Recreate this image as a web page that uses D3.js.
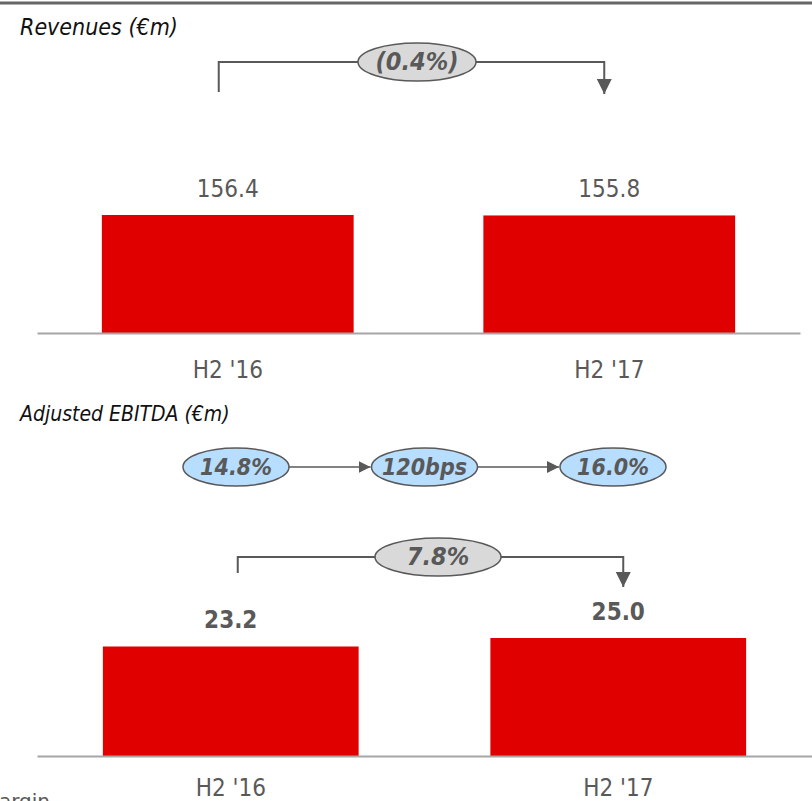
<!DOCTYPE html>
<html>
<head>
<meta charset="utf-8">
<script src="https://cdn.jsdelivr.net/npm/d3@7"></script>
<style>
  body { margin: 0; background: #fff; }
  svg { display: block; }
  text { font-family: "DejaVu Sans Condensed", "DejaVu Sans", sans-serif; fill: #595959; }
</style>
</head>
<body>
<div id="chart"></div>
<script>
// data
const categories = ["H2 '16", "H2 '17"];
const revenues = [156.4, 155.8];
const ebitda = [23.2, 25.0];
const revenueChange = "(0.4%)";
const ebitdaChange = "7.8%";
const marginSteps = ["14.8%", "120bps", "16.0%"];

const W = 812, H = 801;
const RED = "#e00000", GREY = "#595959";

const svg = d3.select("#chart").append("svg")
    .attr("width", W)
    .attr("height", H);

// arrow heads
const defs = svg.append("defs");
defs.append("marker")
    .attr("id", "head")
    .attr("viewBox", "0 0 10 10")
    .attr("refX", 10).attr("refY", 5)
    .attr("markerWidth", 12).attr("markerHeight", 12)
    .attr("markerUnits", "userSpaceOnUse")
    .attr("orient", "auto")
  .append("path")
    .attr("d", "M0,0L10,5L0,10Z")
    .attr("fill", GREY);

defs.append("marker")
    .attr("id", "headBig")
    .attr("viewBox", "0 0 10 10")
    .attr("refX", 10).attr("refY", 5)
    .attr("markerWidth", 15).attr("markerHeight", 16)
    .attr("markerUnits", "userSpaceOnUse")
    .attr("orient", "auto")
  .append("path")
    .attr("d", "M0,0L10,5L0,10Z")
    .attr("fill", GREY);

// top rule
svg.append("line")
    .attr("x1", 0).attr("x2", W)
    .attr("y1", 3).attr("y2", 3)
    .attr("stroke", "#666").attr("stroke-width", 3);

function drawPanel(opts) {
    const x = d3.scaleBand()
        .domain(categories)
        .range([37, opts.axisRight])
        .paddingInner(0.34)
        .paddingOuter(0.17);

    const y = d3.scaleLinear()
        .domain([0, opts.max])
        .range([opts.base, opts.base - opts.maxH]);

    const g = svg.append("g");

    // title
    g.append("text")
        .attr("x", 20).attr("y", opts.titleY)
        .style("font-style", "italic")
        .style("font-size", opts.titleSize)
        .style("fill", "#111")
        .text(opts.title);

    g.selectAll(".bar")
        .data(opts.values)
        .join("rect")
        .attr("class", "bar")
        .attr("x", (d, i) => x(categories[i]))
        .attr("width", x.bandwidth())
        .attr("y", d => y(d))
        .attr("height", d => y(0) - y(d))
        .attr("fill", RED);

    // baseline + category labels
    const axis = g.append("g")
        .attr("transform", `translate(0,${opts.base})`)
        .call(d3.axisBottom(x).tickSize(0).tickPadding(opts.tickPad));
    axis.select(".domain").attr("stroke", "#a6a6a6").attr("stroke-width", 2);
    axis.selectAll(".tick text")
        .style("font-family", "'DejaVu Sans Condensed', sans-serif")
        .style("font-size", "24px")
        .style("fill", GREY);

    // value labels
    g.selectAll(".val")
        .data(opts.values)
        .join("text")
        .attr("class", "val")
        .attr("x", (d, i) => x(categories[i]) + x.bandwidth() / 2)
        .attr("y", d => y(d) - 18)
        .attr("text-anchor", "middle")
        .style("font-size", "24px")
        .style("font-weight", opts.boldValues ? "bold" : "normal")
        .text(d => d3.format(".1f")(d));

    // change connector
    const cx0 = x(categories[0]) + x.bandwidth() / 2 + opts.dx0;
    const cx1 = x(categories[1]) + x.bandwidth() / 2 + opts.dx1;
    const cy = opts.connY;
    g.append("path")
        .attr("d", `M${cx0},${cy + opts.leftDrop}V${cy}H${cx1}V${cy + opts.rightDrop}`)
        .attr("fill", "none")
        .attr("stroke", GREY)
        .attr("stroke-width", 2)
        .attr("marker-end", "url(#headBig)");

    const ex = opts.ellipseX;
    g.append("ellipse")
        .attr("cx", ex).attr("cy", cy)
        .attr("rx", opts.ellipseRx).attr("ry", 19)
        .attr("fill", "#d9d9d9")
        .attr("stroke", GREY).attr("stroke-width", 1.5);
    g.append("text")
        .attr("x", ex).attr("y", cy + 8)
        .attr("text-anchor", "middle")
        .style("font-size", "25px")
        .style("font-weight", "bold")
        .style("font-style", "italic")
        .text(opts.change);
}

drawPanel({
    title: "Revenues (€m)", titleY: 35, titleSize: "23px",
    values: revenues, max: revenues[0], base: 333, maxH: 118,
    axisRight: 800, boldValues: false, tickPad: 28,
    connY: 62, leftDrop: 30, rightDrop: 32, dx0: -9, dx1: -5,
    ellipseX: 417, ellipseRx: 59, change: revenueChange
});

drawPanel({
    title: "Adjusted EBITDA (€m)", titleY: 421, titleSize: "21px",
    values: ebitda, max: ebitda[1], base: 756, maxH: 118,
    axisRight: 812, boldValues: true, tickPad: 23,
    connY: 557, leftDrop: 16, rightDrop: 30, dx0: 7, dx1: 5,
    ellipseX: 438, ellipseRx: 63, change: ebitdaChange
});

// margin bridge
const mx = d3.scalePoint()
    .domain(marginSteps)
    .range([236, 613]);
const my = 467;

svg.selectAll(".mlink")
    .data(marginSteps.slice(1))
    .join("line")
    .attr("class", "mlink")
    .attr("x1", (d, i) => mx(marginSteps[i]) + 53)
    .attr("x2", d => mx(d) - 54)
    .attr("y1", my).attr("y2", my)
    .attr("stroke", GREY).attr("stroke-width", 1.5)
    .attr("marker-end", "url(#head)");

svg.selectAll(".mnode")
    .data(marginSteps)
    .join("ellipse")
    .attr("class", "mnode")
    .attr("cx", d => mx(d)).attr("cy", my)
    .attr("rx", 53).attr("ry", 19)
    .attr("fill", "#b7ddff")
    .attr("stroke", GREY).attr("stroke-width", 1.5);

svg.selectAll(".mlabel")
    .data(marginSteps)
    .join("text")
    .attr("class", "mlabel")
    .attr("x", d => mx(d)).attr("y", my + 8)
    .attr("text-anchor", "middle")
    .style("font-size", "23px")
    .style("font-weight", "bold")
    .style("font-style", "italic")
    .text(d => d);

// footnote, cut off at the bottom edge as in the source
svg.append("text")
    .attr("x", 50).attr("y", 808)
    .attr("text-anchor", "end")
    .style("font-family", "'DejaVu Sans', sans-serif")
    .style("font-size", "20px")
    .text("Margin");
</script>
</body>
</html>
